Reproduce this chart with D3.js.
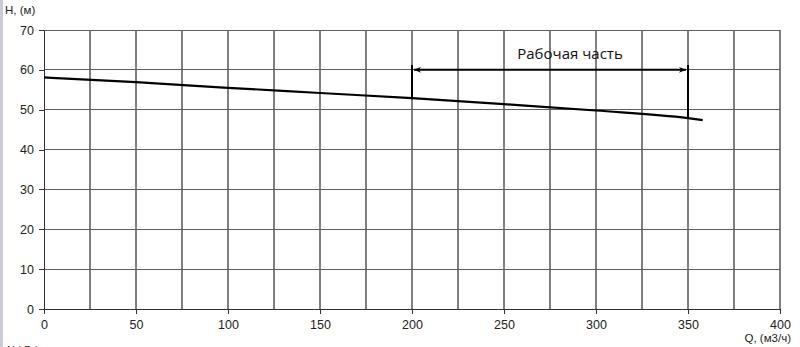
<!DOCTYPE html>
<html><head><meta charset="utf-8">
<script src="https://cdn.jsdelivr.net/npm/d3@7"></script>
<style>body{margin:0;background:#fff}svg{display:block}</style>
</head><body>
<script>
const flowQ = [0, 50, 100, 150, 200, 250, 300, 350, 358];
const headH = [58.1, 56.9, 55.5, 54.2, 52.9, 51.4, 49.8, 47.9, 47.4];
const xTicks = [0, 50, 100, 150, 200, 250, 300, 350, 400];
const yTicks = [0, 10, 20, 30, 40, 50, 60, 70];
const workRange = [200, 350];
const workArrowH = 60;
const workTopH = 61.2;
const workLabel = "Рабочая часть";

const W = 800, H = 347;
const svg = d3.select("body").append("svg").attr("width", W).attr("height", H);
svg.append("rect").attr("x",0).attr("y",0).attr("width",3).attr("height",H).attr("fill","#c9ccd8");

const x = d3.scaleLinear().domain([0,400]).range([44,780]);
const y = d3.scaleLinear().domain([0,70]).range([309,30]);

const g = svg.append("g");
g.selectAll("line.v").data(d3.range(25,401,25)).join("line")
  .attr("x1",d=>x(d)).attr("x2",d=>x(d)).attr("y1",y(0)).attr("y2",y(70))
  .attr("stroke","#7f7f7f").attr("stroke-width",1.2).attr("shape-rendering","crispEdges");
g.selectAll("line.h").data(yTicks.slice(1)).join("line")
  .attr("x1",x(0)).attr("x2",x(400)).attr("y1",d=>y(d)).attr("y2",d=>y(d))
  .attr("stroke","#5f5f5f").attr("stroke-width",1).attr("shape-rendering","crispEdges");

const font = "'Liberation Sans', Arial, sans-serif";
const xAxis = svg.append("g").attr("transform",`translate(0,${y(0)})`)
  .call(d3.axisBottom(x).tickValues(xTicks).tickSize(5).tickSizeOuter(0).tickPadding(6));
const yAxis = svg.append("g").attr("transform",`translate(${x(0)},0)`)
  .call(d3.axisLeft(y).tickValues(yTicks).tickSize(5).tickSizeOuter(0).tickPadding(4));
[xAxis,yAxis].forEach(a=>{
  a.selectAll("path").attr("stroke","#333").attr("shape-rendering","crispEdges");
  a.selectAll("line").attr("stroke","#333").attr("shape-rendering","crispEdges");
  a.selectAll("text").attr("font-family",font).attr("font-size",12.5).attr("fill","#222");
});
yAxis.selectAll("text").attr("dx",-1);

svg.append("text").attr("x",5).attr("y",14).attr("font-family",font).attr("font-size",11.5).attr("fill","#222").text("H, (м)");
svg.append("text").attr("x",791).attr("y",342).attr("text-anchor","end").attr("font-family",font).attr("font-size",11.5).attr("fill","#222").text("Q, (м3/ч)");
svg.append("text").attr("x",7).attr("y",354).attr("font-family",font).attr("font-size",11).attr("fill","#333").text("Nd Pd");

const pts = flowQ.map((q,i)=>[q,headH[i]]);
svg.append("path").datum(pts)
  .attr("d", d3.line().x(d=>x(d[0])).y(d=>y(d[1])).curve(d3.curveMonotoneX))
  .attr("fill","none").attr("stroke","#000").attr("stroke-width",2.2);

const interp = q => { for(let i=0;i<flowQ.length-1;i++){ if(q>=flowQ[i]&&q<=flowQ[i+1]){const t=(q-flowQ[i])/(flowQ[i+1]-flowQ[i]);return headH[i]+t*(headH[i+1]-headH[i]);} } return headH[headH.length-1]; };
workRange.forEach(q=>{
  svg.append("line").attr("x1",x(q)).attr("x2",x(q)).attr("y1",y(workTopH)).attr("y2",y(interp(q))+1)
    .attr("stroke","#000").attr("stroke-width",2);
});
const defs = svg.append("defs");
defs.append("marker").attr("id","ah").attr("viewBox","0 0 10 10").attr("refX",10).attr("refY",5)
  .attr("markerWidth",10).attr("markerHeight",7).attr("markerUnits","userSpaceOnUse").attr("orient","auto-start-reverse")
  .append("path").attr("d","M0,1 L10,5 L0,9 L3,5 Z").attr("fill","#000");
svg.append("line").attr("x1",x(workRange[0])+2).attr("x2",x(workRange[1])-2)
  .attr("y1",y(workArrowH)).attr("y2",y(workArrowH))
  .attr("stroke","#000").attr("stroke-width",2)
  .attr("marker-start","url(#ah)").attr("marker-end","url(#ah)");
svg.append("text").attr("x",570).attr("y",59)
  .attr("text-anchor","middle").attr("font-family","'Open Sans', 'Noto Sans', sans-serif").attr("font-size",15).attr("fill","#111")
  .text(workLabel);
</script>
</body></html>
